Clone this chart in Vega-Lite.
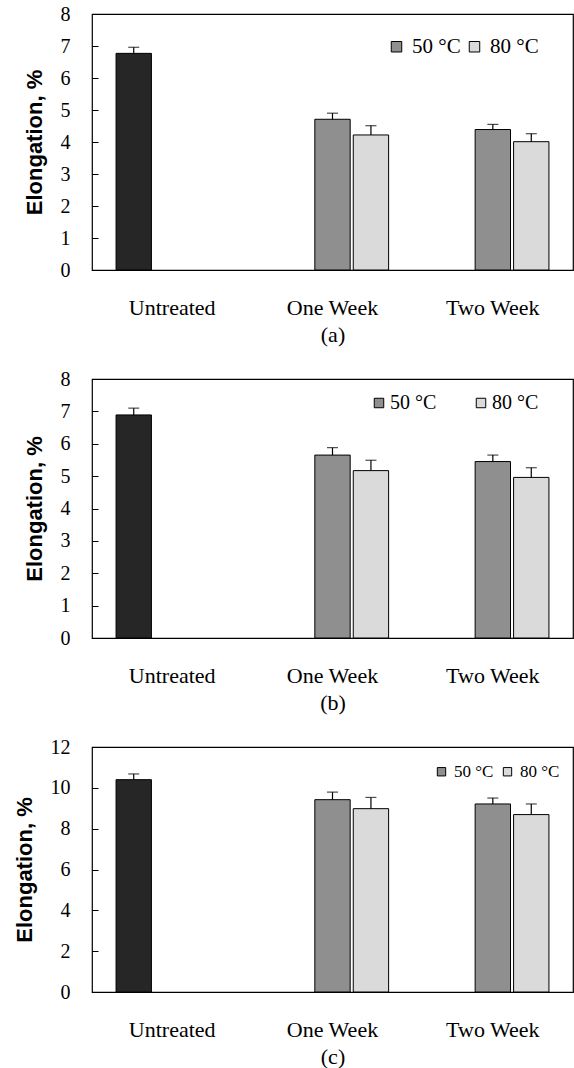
{
  "$schema": "https://vega.github.io/schema/vega-lite/v6.json",
  "background": "white",
  "padding": {"left": 12, "top": 3, "right": 0, "bottom": 0},
  "datasets": {
    "elongation": [
      {"panel": "a", "treatment": "Untreated", "series": "Untreated", "value": 6.77, "upper": 6.96},
      {"panel": "a", "treatment": "One Week", "series": "50 °C", "value": 4.71, "upper": 4.9},
      {"panel": "a", "treatment": "One Week", "series": "80 °C", "value": 4.22, "upper": 4.51},
      {"panel": "a", "treatment": "Two Week", "series": "50 °C", "value": 4.39, "upper": 4.55},
      {"panel": "a", "treatment": "Two Week", "series": "80 °C", "value": 4.01, "upper": 4.26},
      {"panel": "b", "treatment": "Untreated", "series": "Untreated", "value": 6.89, "upper": 7.1},
      {"panel": "b", "treatment": "One Week", "series": "50 °C", "value": 5.65, "upper": 5.88},
      {"panel": "b", "treatment": "One Week", "series": "80 °C", "value": 5.17, "upper": 5.49},
      {"panel": "b", "treatment": "Two Week", "series": "50 °C", "value": 5.45, "upper": 5.65},
      {"panel": "b", "treatment": "Two Week", "series": "80 °C", "value": 4.96, "upper": 5.26},
      {"panel": "c", "treatment": "Untreated", "series": "Untreated", "value": 10.4, "upper": 10.68},
      {"panel": "c", "treatment": "One Week", "series": "50 °C", "value": 9.42, "upper": 9.79},
      {"panel": "c", "treatment": "One Week", "series": "80 °C", "value": 8.98, "upper": 9.53},
      {"panel": "c", "treatment": "Two Week", "series": "50 °C", "value": 9.21, "upper": 9.5},
      {"panel": "c", "treatment": "Two Week", "series": "80 °C", "value": 8.69, "upper": 9.21}
    ]
  },
  "bounds": "flush",
  "spacing": 109,
  "vconcat": [
    {
      "width": 481,
      "height": 256,
      "data": {"name": "elongation"},
      "transform": [{"filter": "datum.panel === 'a'"}],
      "encoding": {
        "x": {"field": "treatment", "type": "nominal", "sort": ["Untreated", "One Week", "Two Week"],
              "scale": {"paddingInner": 0.3, "paddingOuter": 0.15}, "axis": {"title": "(a)"}},
        "xOffset": {"field": "series", "type": "nominal",
                    "scale": {"domain": ["Untreated", "50 °C", "80 °C"], "paddingInner": 0.08}},
        "y": {"field": "value", "type": "quantitative",
              "scale": {"domain": [0, 8], "nice": false},
              "axis": {"title": "Elongation, %", "values": [0, 1, 2, 3, 4, 5, 6, 7, 8]}}
      },
      "layer": [
        {
          "mark": {"type": "bar", "stroke": "black", "strokeWidth": 1},
          "encoding": {
            "color": {"field": "series", "type": "nominal",
                      "scale": {"domain": ["Untreated", "50 °C", "80 °C"], "range": ["#262626", "#8f8f8f", "#dadada"]},
                      "legend": {"values": ["50 °C", "80 °C"], "orient": "none", "legendX": 294, "legendY": 22,
                                 "direction": "horizontal", "title": null, "labelFontSize": 21,
                                 "symbolSize": 110, "labelOffset": 5, "columnPadding": 3}}
          }
        },
        {"mark": {"type": "rule", "color": "black", "strokeWidth": 1.2}, "encoding": {"y2": {"field": "upper"}}},
        {"mark": {"type": "tick", "color": "black", "size": 11, "thickness": 1.2},
         "encoding": {"y": {"field": "upper", "type": "quantitative", "title": "Elongation, %"}}}
      ]
    },
    {
      "width": 481,
      "height": 259,
      "data": {"name": "elongation"},
      "transform": [{"filter": "datum.panel === 'b'"}],
      "encoding": {
        "x": {"field": "treatment", "type": "nominal", "sort": ["Untreated", "One Week", "Two Week"],
              "scale": {"paddingInner": 0.3, "paddingOuter": 0.15}, "axis": {"title": "(b)"}},
        "xOffset": {"field": "series", "type": "nominal",
                    "scale": {"domain": ["Untreated", "50 °C", "80 °C"], "paddingInner": 0.08}},
        "y": {"field": "value", "type": "quantitative",
              "scale": {"domain": [0, 8], "nice": false},
              "axis": {"title": "Elongation, %", "values": [0, 1, 2, 3, 4, 5, 6, 7, 8]}}
      },
      "layer": [
        {
          "mark": {"type": "bar", "stroke": "black", "strokeWidth": 1},
          "encoding": {
            "color": {"field": "series", "type": "nominal",
                      "scale": {"domain": ["Untreated", "50 °C", "80 °C"], "range": ["#262626", "#8f8f8f", "#dadada"]},
                      "legend": {"values": ["50 °C", "80 °C"], "orient": "none", "legendX": 277, "legendY": 14,
                                 "direction": "horizontal", "title": null, "labelFontSize": 20,
                                 "symbolSize": 90, "labelOffset": 1, "columnPadding": 34}}
          }
        },
        {"mark": {"type": "rule", "color": "black", "strokeWidth": 1.2}, "encoding": {"y2": {"field": "upper"}}},
        {"mark": {"type": "tick", "color": "black", "size": 11, "thickness": 1.2},
         "encoding": {"y": {"field": "upper", "type": "quantitative", "title": "Elongation, %"}}}
      ]
    },
    {
      "width": 481,
      "height": 245,
      "data": {"name": "elongation"},
      "transform": [{"filter": "datum.panel === 'c'"}],
      "encoding": {
        "x": {"field": "treatment", "type": "nominal", "sort": ["Untreated", "One Week", "Two Week"],
              "scale": {"paddingInner": 0.3, "paddingOuter": 0.15}, "axis": {"title": "(c)"}},
        "xOffset": {"field": "series", "type": "nominal",
                    "scale": {"domain": ["Untreated", "50 °C", "80 °C"], "paddingInner": 0.08}},
        "y": {"field": "value", "type": "quantitative",
              "scale": {"domain": [0, 12], "nice": false},
              "axis": {"title": "Elongation, %", "values": [0, 2, 4, 6, 8, 10, 12]}}
      },
      "layer": [
        {
          "mark": {"type": "bar", "stroke": "black", "strokeWidth": 1},
          "encoding": {
            "color": {"field": "series", "type": "nominal",
                      "scale": {"domain": ["Untreated", "50 °C", "80 °C"], "range": ["#262626", "#8f8f8f", "#dadada"]},
                      "legend": {"values": ["50 °C", "80 °C"], "orient": "none", "legendX": 341, "legendY": 16,
                                 "direction": "horizontal", "title": null, "labelFontSize": 17,
                                 "symbolSize": 70, "labelOffset": 4, "columnPadding": 5}}
          }
        },
        {"mark": {"type": "rule", "color": "black", "strokeWidth": 1.2}, "encoding": {"y2": {"field": "upper"}}},
        {"mark": {"type": "tick", "color": "black", "size": 11, "thickness": 1.2},
         "encoding": {"y": {"field": "upper", "type": "quantitative", "title": "Elongation, %"}}}
      ]
    }
  ],
  "resolve": {
    "scale": {"color": "independent", "y": "independent", "x": "independent", "xOffset": "independent"},
    "legend": {"color": "independent"}
  },
  "config": {
    "font": "Liberation Serif",
    "view": {"stroke": "black", "strokeWidth": 1.2},
    "axis": {"grid": false, "domain": false, "labelColor": "black", "titleColor": "black"},
    "axisX": {"ticks": false, "labelAngle": 0, "labelFont": "Liberation Serif", "labelFontSize": 22,
              "labelPadding": 27, "titleFont": "Liberation Serif", "titleFontSize": 22,
              "titleFontWeight": "normal", "titlePadding": 6},
    "axisY": {"ticks": true, "tickSize": -6, "tickColor": "black", "labelFont": "Liberation Serif",
              "labelFontSize": 20, "labelPadding": 28, "titleFont": "Liberation Sans", "titleFontSize": 22,
              "titleFontWeight": "bold", "titlePadding": 14},
    "legend": {"labelFont": "Liberation Serif", "labelColor": "black", "symbolType": "square",
               "symbolStrokeColor": "black", "symbolStrokeWidth": 1, "padding": 0}
  }
}
